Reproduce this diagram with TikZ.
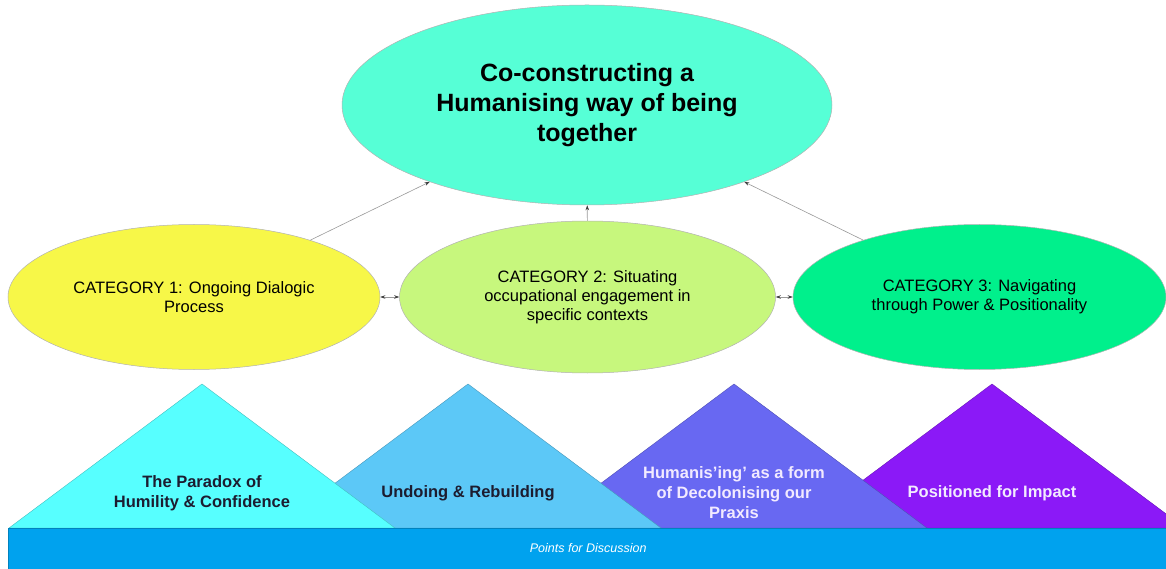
\documentclass[tikz,border=0pt]{standalone}
\usepackage{fontspec}
\setmainfont{Liberation Sans}
\usetikzlibrary{shapes.geometric,arrows.meta}

\definecolor{topgreen}{HTML}{56FFD6}
\definecolor{catone}{HTML}{F7F748}
\definecolor{cattwo}{HTML}{C7F77D}
\definecolor{catthree}{HTML}{00F08C}
\definecolor{tone}{HTML}{57FFFF}
\definecolor{ttwo}{HTML}{5CC8F7}
\definecolor{tthree}{HTML}{6868F2}
\definecolor{tfour}{HTML}{8B19F7}
\definecolor{barblue}{HTML}{00A2EE}
\definecolor{darktext}{HTML}{1C1C30}
\definecolor{lighttext}{HTML}{F2EAFF}

\begin{document}
\begin{tikzpicture}[x=1pt, y=1pt,
    bubble/.style={ellipse, draw=black!30, line width=0.5pt, inner sep=0pt, align=center,
        font=\fontsize{16.5}{19}\selectfont},
    link/.style={draw=black!40, line width=0.6pt, -{Stealth[length=5pt,width=3.5pt,color=black!75]}},
    twolink/.style={draw=black!40, line width=0.6pt,
        {Stealth[length=5pt,width=3.5pt,color=black!75]}-{Stealth[length=5pt,width=3.5pt,color=black!75]}},
    peaktext/.style={align=center, font=\bfseries\fontsize{16.5}{20}\selectfont}]

    \clip (0,0) rectangle (1166,568);

    \node[bubble, fill=topgreen, minimum width=490pt, minimum height=200pt,
        font=\bfseries\fontsize{25}{30}\selectfont] (top) at (587,463)
        {Co-constructing a\\Humanising way of being\\together};

    \node[bubble, fill=catone, minimum width=372pt, minimum height=145pt] (cat1) at (194,271)
        {CATEGORY 1: Ongoing Dialogic\\Process};
    \node[bubble, fill=cattwo, minimum width=376pt, minimum height=152pt] (cat2) at (587.5,271)
        {CATEGORY 2: Situating\\occupational engagement in\\specific contexts};
    \node[bubble, fill=catthree, minimum width=373pt, minimum height=145pt] (cat3) at (979.5,271)
        {CATEGORY 3: Navigating\\through Power \& Positionality};

    \draw[link] (cat1) -- (top);
    \draw[link] (cat2) -- (top);
    \draw[link] (cat3) -- (top);
    \draw[twolink] (cat1) -- (cat2);
    \draw[twolink] (cat2) -- (cat3);

    \foreach \x/\c in {992/tfour, 734/tthree, 468/ttwo, 202/tone} {
        \filldraw[fill=\c, draw=\c!75!black, line width=0.4pt] (\x-193,40) -- (\x,184) -- (\x+193,40) -- cycle;
    }

    \node[peaktext, text=darktext] (paradox) at (202,75) {The Paradox of\\Humility \& Confidence};
    \node[peaktext, text=darktext] (undoing) at (468,75) {Undoing \& Rebuilding};
    \node[peaktext, text=lighttext] (decolonising) at (734,75) {Humanis’ing’ as a form\\of Decolonising our\\Praxis};
    \node[peaktext, text=lighttext] (impact) at (992,75) {Positioned for Impact};

    \node[fill=barblue, draw=barblue!80!black, line width=0.4pt, minimum width=1160pt, minimum height=41pt,
        anchor=south west, text=white, font=\itshape\fontsize{12.5}{15}\selectfont] (bar) at (8,-1)
        {Points for Discussion};
\end{tikzpicture}
\end{document}
